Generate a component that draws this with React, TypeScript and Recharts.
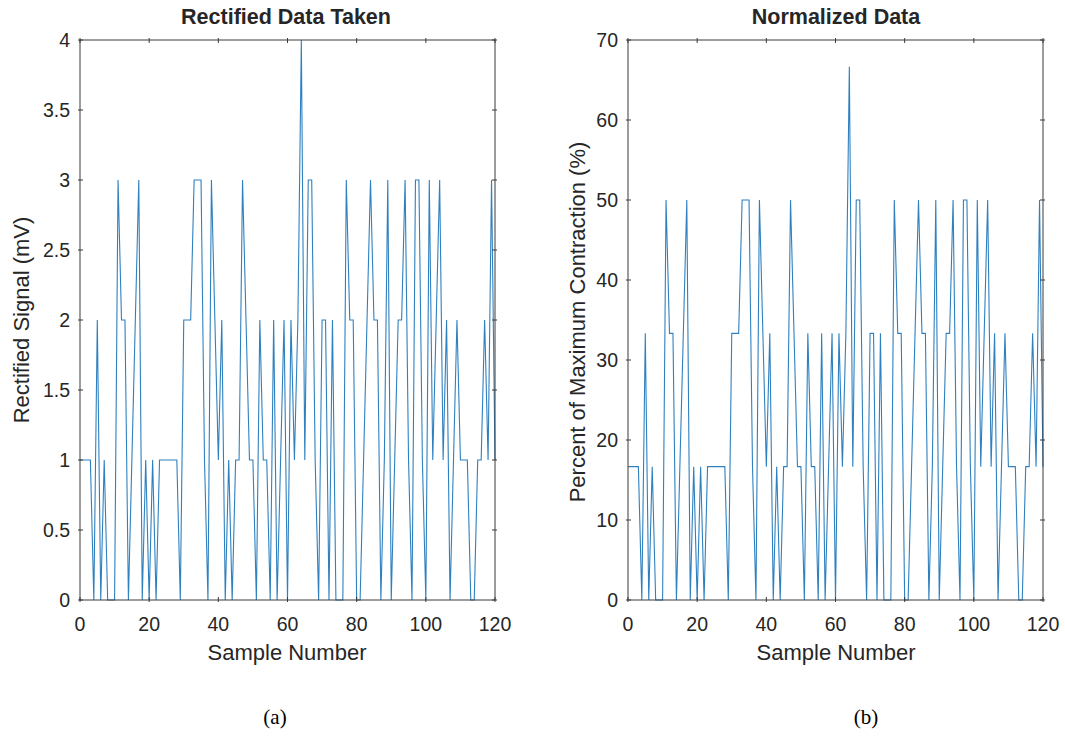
import React from 'react';
import { LineChart, Line, XAxis, YAxis } from 'recharts';

// sample index 0..120 (x axis categories)
const sampleNumbers = [
  0, 1, 2, 3, 4, 5, 6, 7, 8, 9, 10, 11, 12, 13, 14, 15, 16, 17, 18, 19, 20,
  21, 22, 23, 24, 25, 26, 27, 28, 29, 30, 31, 32, 33, 34, 35, 36, 37, 38, 39, 40,
  41, 42, 43, 44, 45, 46, 47, 48, 49, 50, 51, 52, 53, 54, 55, 56, 57, 58, 59, 60,
  61, 62, 63, 64, 65, 66, 67, 68, 69, 70, 71, 72, 73, 74, 75, 76, 77, 78, 79, 80,
  81, 82, 83, 84, 85, 86, 87, 88, 89, 90, 91, 92, 93, 94, 95, 96, 97, 98, 99, 100,
  101, 102, 103, 104, 105, 106, 107, 108, 109, 110, 111, 112, 113, 114, 115, 116, 117, 118, 119, 120,
];

// rectified signal (mV)
const rectified = [
  1, 1, 1, 1, 0, 2, 0, 1, 0, 0, 0, 3, 2, 2, 0, 1, 2, 3, 0, 1, 0,
  1, 0, 1, 1, 1, 1, 1, 1, 0, 2, 2, 2, 3, 3, 3, 1, 0, 3, 2, 1,
  2, 0, 1, 0, 1, 1, 3, 2, 1, 1, 0, 2, 1, 1, 0, 2, 0, 1, 2, 0,
  2, 1, 2, 4, 1, 3, 3, 1, 0, 2, 2, 0, 2, 0, 0, 0, 3, 2, 2, 0,
  0, 1, 2, 3, 2, 2, 0, 1, 3, 0, 1, 2, 2, 3, 1, 0, 3, 3, 1, 0,
  3, 1, 2, 3, 1, 2, 0, 1, 2, 1, 1, 1, 0, 0, 1, 1, 2, 1, 3, 1,
];

// percent of maximum contraction (%)
const normalized = [
  16.67, 16.67, 16.67, 16.67, 0, 33.33, 0, 16.67, 0, 0, 0, 50, 33.33, 33.33, 0, 16.67, 33.33, 50, 0, 16.67, 0,
  16.67, 0, 16.67, 16.67, 16.67, 16.67, 16.67, 16.67, 0, 33.33, 33.33, 33.33, 50, 50, 50, 16.67, 0, 50, 33.33, 16.67,
  33.33, 0, 16.67, 0, 16.67, 16.67, 50, 33.33, 16.67, 16.67, 0, 33.33, 16.67, 16.67, 0, 33.33, 0, 16.67, 33.33, 0,
  33.33, 16.67, 33.33, 66.67, 16.67, 50, 50, 16.67, 0, 33.33, 33.33, 0, 33.33, 0, 0, 0, 50, 33.33, 33.33, 0,
  0, 16.67, 33.33, 50, 33.33, 33.33, 0, 16.67, 50, 0, 16.67, 33.33, 33.33, 50, 16.67, 0, 50, 50, 16.67, 0,
  50, 16.67, 33.33, 50, 16.67, 33.33, 0, 16.67, 33.33, 16.67, 16.67, 16.67, 0, 0, 16.67, 16.67, 33.33, 16.67, 50, 16.67,
];

const xTicks = [0, 20, 40, 60, 80, 100, 120];
const rectTicks = [0, 0.5, 1, 1.5, 2, 2.5, 3, 3.5, 4];
const normTicks = [0, 10, 20, 30, 40, 50, 60, 70];

const rectData = sampleNumbers.map((n, i) => ({ n, v: rectified[i] }));
const normData = sampleNumbers.map((n, i) => ({ n, v: normalized[i] }));

const FONT = '"Liberation Sans", Arial, Helvetica, sans-serif';
const INK = '#262626';
const BOX = '#3a3a3a';
const LINE = '#2f80bf';
const TICK_LEN = 5;

const BottomTick = (props: any) => {
  const { x, y, payload } = props;
  return (
    <g>
      <line x1={x} x2={x} y1={y} y2={y - TICK_LEN} stroke={BOX} />
      <text x={x} y={y + 29} textAnchor="middle" fontSize={19.5} fontFamily={FONT} fill={INK}>
        {payload.value}
      </text>
    </g>
  );
};

const TopTick = (props: any) => {
  const { x, y } = props;
  return <line x1={x} x2={x} y1={y} y2={y + TICK_LEN} stroke={BOX} />;
};

const LeftTick = (props: any) => {
  const { x, y, payload } = props;
  return (
    <g>
      <line x1={x} x2={x + TICK_LEN} y1={y} y2={y} stroke={BOX} />
      <text x={x - 8} y={y + 7} textAnchor="end" fontSize={19.5} fontFamily={FONT} fill={INK}>
        {payload.value}
      </text>
    </g>
  );
};

const RightTick = (props: any) => {
  const { x, y } = props;
  return <line x1={x} x2={x - TICK_LEN} y1={y} y2={y} stroke={BOX} />;
};

type PanelProps = {
  data: { n: number; v: number }[];
  yTicks: number[];
  yMax: number;
  left: number;
  width: number;
  yAxisWidth: number;
  rightWidth: number;
};

const Panel = ({ data, yTicks, yMax, left, width, yAxisWidth, rightWidth }: PanelProps) => (
  <div style={{ position: 'absolute', left, top: 0 }}>
    <LineChart width={width} height={680} data={data} margin={{ top: 0, right: 0, bottom: 0, left: 0 }}>
      <XAxis
        xAxisId="bottom"
        dataKey="n"
        type="number"
        domain={[0, 120]}
        ticks={xTicks}
        interval={0}
        height={80}
        tickSize={0}
        tickLine={false}
        tick={BottomTick}
        axisLine={{ stroke: BOX }}
      />
      <XAxis
        xAxisId="top"
        orientation="top"
        dataKey="n"
        type="number"
        domain={[0, 120]}
        ticks={xTicks}
        interval={0}
        height={40}
        tickSize={0}
        tickLine={false}
        tick={TopTick}
        axisLine={{ stroke: BOX }}
      />
      <YAxis
        yAxisId="left"
        type="number"
        domain={[0, yMax]}
        ticks={yTicks}
        interval={0}
        width={yAxisWidth}
        tickSize={0}
        tickLine={false}
        tick={LeftTick}
        axisLine={{ stroke: BOX }}
      />
      <YAxis
        yAxisId="right"
        orientation="right"
        type="number"
        domain={[0, yMax]}
        ticks={yTicks}
        interval={0}
        width={rightWidth}
        tickSize={0}
        tickLine={false}
        tick={RightTick}
        axisLine={{ stroke: BOX }}
      />
      <Line
        xAxisId="bottom"
        yAxisId="left"
        type="linear"
        dataKey="v"
        stroke={LINE}
        strokeWidth={1.1}
        dot={false}
        activeDot={false}
        isAnimationActive={false}
      />
      <Line
        xAxisId="top"
        yAxisId="right"
        type="linear"
        dataKey="v"
        stroke="none"
        dot={false}
        activeDot={false}
        isAnimationActive={false}
      />
    </LineChart>
  </div>
);

const textBase: React.CSSProperties = {
  position: 'absolute',
  whiteSpace: 'nowrap',
  color: INK,
  fontFamily: FONT,
  transform: 'translate(-50%, -50%)',
  lineHeight: 1,
};

const serif = '"Liberation Serif", "Times New Roman", serif';

const App = () => {
  return (
    <div style={{ position: 'absolute', left: 0, top: 0, width: 1065, height: 738, background: '#fff' }}>
      <Panel data={rectData} yTicks={rectTicks} yMax={4} left={0} width={540} yAxisWidth={80} rightWidth={45} />
      <Panel data={normData} yTicks={normTicks} yMax={70} left={540} width={525} yAxisWidth={88} rightWidth={22} />

      <div style={{ ...textBase, left: 286, top: 18, fontSize: 21.5, fontWeight: 'bold' }}>Rectified Data Taken</div>
      <div style={{ ...textBase, left: 836, top: 18, fontSize: 21.5, fontWeight: 'bold' }}>Normalized Data</div>

      <div style={{ ...textBase, left: 287, top: 653, fontSize: 22 }}>Sample Number</div>
      <div style={{ ...textBase, left: 836, top: 653, fontSize: 22 }}>Sample Number</div>

      <div style={{ ...textBase, left: 22, top: 320, fontSize: 22, transform: 'translate(-50%, -50%) rotate(-90deg)' }}>
        Rectified Signal (mV)
      </div>
      <div style={{ ...textBase, left: 578, top: 322, fontSize: 22, transform: 'translate(-50%, -50%) rotate(-90deg)' }}>
        Percent of Maximum Contraction (%)
      </div>

      <div style={{ ...textBase, left: 275, top: 717, fontSize: 21, fontFamily: serif, color: '#000' }}>(a)</div>
      <div style={{ ...textBase, left: 866, top: 717, fontSize: 21, fontFamily: serif, color: '#000' }}>(b)</div>
    </div>
  );
};

export default App;
